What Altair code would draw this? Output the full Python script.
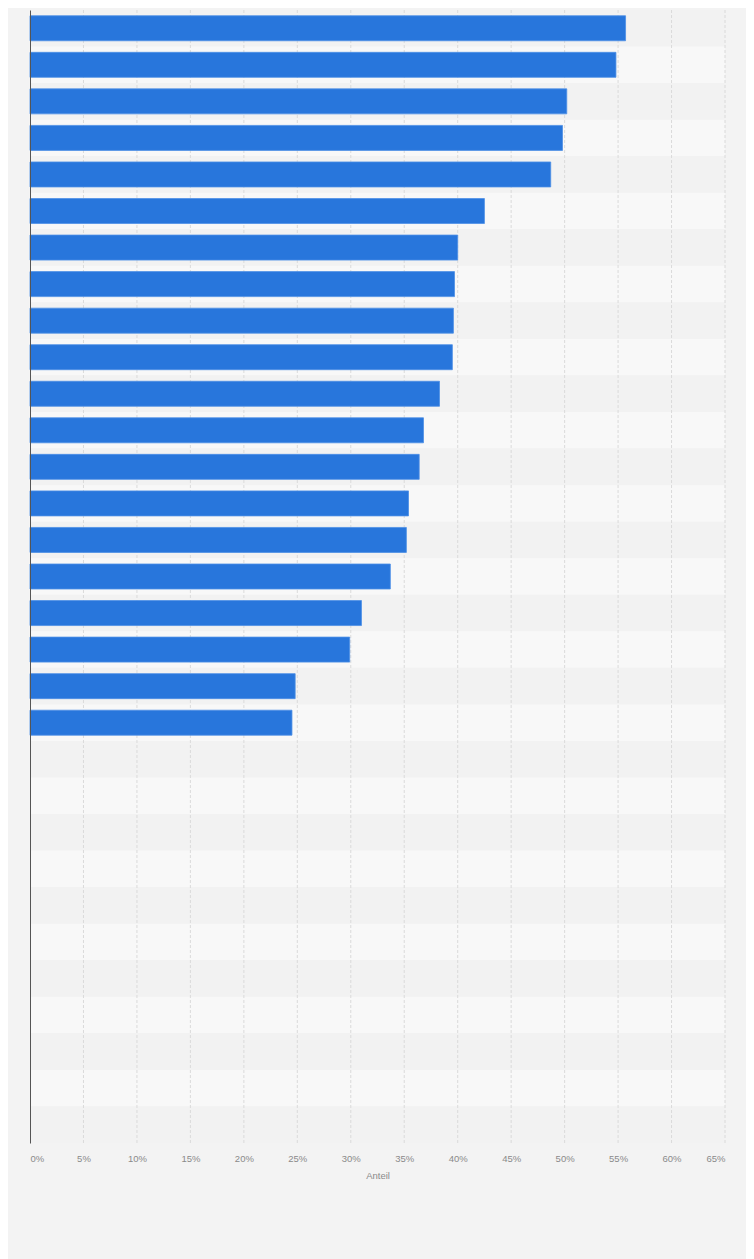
import altair as alt
import pandas as pd

# 31 rows on the y axis; only the first 20 carry a value (no category labels shown)
categories = [f"Zeile {i}" for i in range(1, 32)]
values = [55.7, 54.8, 50.2, 49.8, 48.7, 42.5, 40.0, 39.7, 39.6, 39.5,
          38.3, 36.8, 36.4, 35.4, 35.2, 33.7, 31.0, 29.9, 24.8, 24.5]
tick_values = [0, 5, 10, 15, 20, 25, 30, 35, 40, 45, 50, 55, 60, 65]

rows = pd.DataFrame({
    "Kategorie": categories,
    "Anteil": values + [None] * (len(categories) - len(values)),
    "Streifen": ["a" if i % 2 == 0 else "b" for i in range(len(categories))],
})
grid = pd.DataFrame({"t": tick_values[1:]})

x_scale = alt.Scale(domain=[0, 65], nice=False)
y_scale = alt.Scale(domain=categories, paddingInner=0, paddingOuter=0)

x_axis = alt.Axis(
    values=tick_values, labelExpr="datum.value + '%'", labelFlush=True,
    domain=False, ticks=False, grid=False, labelFontSize=9.5, labelColor="#8a8a8a",
    labelFont="Liberation Sans", labelPadding=10, title="Anteil",
    titleFontSize=9.5, titleColor="#8a8a8a", titleFontWeight="normal",
    titleFont="Liberation Sans", titlePadding=8,
)
y_axis = alt.Axis(labels=False, ticks=False, title=None, domain=True,
                  domainColor="#555555", domainWidth=1, grid=False, zindex=2)

stripes = alt.Chart(rows).mark_rect().encode(
    y=alt.Y("Kategorie:N", scale=y_scale, axis=y_axis, sort=categories),
    x=alt.datum(0, scale=x_scale, axis=x_axis, type="quantitative"),
    x2=alt.datum(65),
    color=alt.Color("Streifen:N", scale=alt.Scale(domain=["a", "b"], range=["#f2f2f2", "#f8f8f8"]), legend=None),
)

gridlines = alt.Chart(grid).mark_rule(color="#dadada", strokeDash=[3, 2], strokeWidth=1).encode(
    x=alt.X("t:Q", scale=x_scale, axis=x_axis),
)

bars = alt.Chart(rows).transform_filter("isValid(datum.Anteil)").mark_bar(
    size=25, color="#2876dc", stroke="#4d8fe6", strokeWidth=0.8
).encode(
    y=alt.Y("Kategorie:N", scale=y_scale, axis=y_axis, sort=categories),
    x=alt.X("Anteil:Q", scale=x_scale, axis=x_axis),
)

chart = alt.layer(stripes, gridlines, bars).properties(
    width=695, height=1133,
    background="#f3f3f3",
    padding={"left": 22, "top": 2, "right": 21, "bottom": 116},
    autosize=alt.AutoSizeParams(type="none"),
).configure_view(stroke=None)

chart.save("out.html", embed_options={"renderer": "svg", "actions": False})
